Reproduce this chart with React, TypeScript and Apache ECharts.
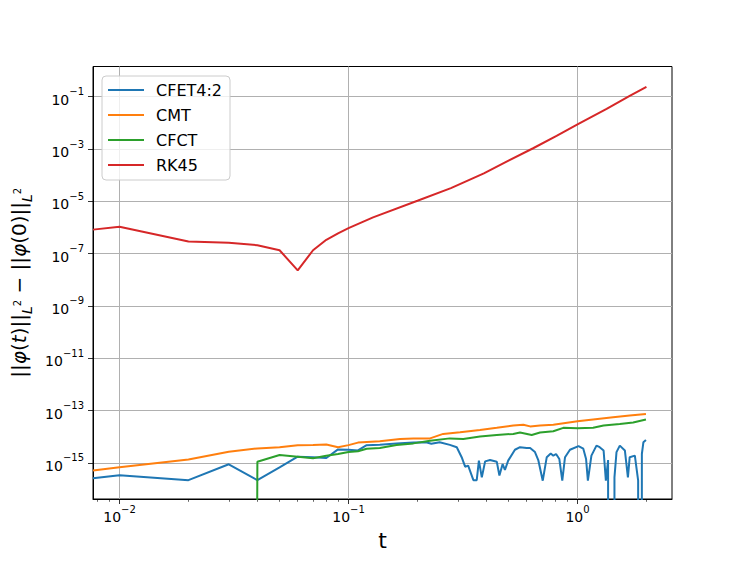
import React, { useEffect, useRef } from "react";
import * as echarts from "echarts";

// Axis limits (data units)
const X_MIN = 0.00766;
const X_MAX = 2.586;
const Y_MIN = 4.19e-17;
const Y_MAX = 1.427;

const X_MAJOR_EXP = [-2, -1, 0];
const Y_MAJOR_EXP = [-15, -13, -11, -9, -7, -5, -3, -1];
const X_MINOR = [0.008, 0.009, 0.02, 0.03, 0.04, 0.05, 0.06, 0.07, 0.08, 0.09, 0.2, 0.3, 0.4, 0.5, 0.6, 0.7, 0.8, 0.9, 2];

const SERIES_NAMES = ["CFET4:2", "CMT", "CFCT", "RK45"];
const COLORS = ["#1f77b4", "#ff7f0e", "#2ca02c", "#d62728"];

const cfetT = [0.00766, 0.01, 0.02, 0.03, 0.04, 0.05, 0.06, 0.07, 0.08, 0.09, 0.1, 0.11, 0.12, 0.137, 0.162, 0.192, 0.218, 0.23, 0.25, 0.277, 0.297, 0.312, 0.323, 0.333, 0.351, 0.363, 0.371, 0.382, 0.395, 0.415, 0.444, 0.456, 0.471, 0.482, 0.498, 0.533, 0.561, 0.6, 0.621, 0.652, 0.674, 0.705, 0.734, 0.764, 0.784, 0.806, 0.833, 0.858, 0.882, 0.927, 1.01, 1.06, 1.09, 1.11, 1.15, 1.21, 1.25, 1.3, 1.33, 1.36, 1.41, 1.45, 1.48, 1.53, 1.61, 1.66, 1.69, 1.78, 1.84, 1.87, 1.91, 1.94, 1.99];
const cfetErr = [2.6e-16, 3.4e-16, 2.2e-16, 8.9e-16, 2.2e-16, 6.8e-16, 1.74e-15, 1.66e-15, 1.55e-15, 3.3e-15, 3.2e-15, 3.0e-15, 4.8e-15, 5.0e-15, 5.6e-15, 6.0e-15, 6.2e-15, 5.4e-15, 6.2e-15, 4.9e-15, 4.0e-15, 1.66e-15, 7.2e-16, 7.9e-16, 2.2e-16, 2.2e-16, 1.23e-15, 2.8e-16, 1.15e-15, 1.29e-15, 1.12e-15, 3.3e-16, 9.1e-16, 5.4e-16, 1.23e-15, 3.2e-15, 4.0e-15, 3.7e-15, 3.7e-15, 2.6e-15, 1.29e-15, 2.1e-16, 1.66e-15, 2.3e-15, 1.9e-15, 2.2e-15, 1.41e-15, 2.1e-16, 1.66e-15, 3.2e-15, 4.4e-15, 3.5e-15, 1.41e-15, 2.1e-16, 1.9e-15, 4.6e-15, 4.0e-15, 3.0e-15, 2.1e-16, 1.29e-15, 0, 2.8e-16, 2.6e-15, 4.6e-15, 3.0e-15, 2.8e-16, 1.66e-15, 1.9e-15, 2.1e-16, 0, 2.2e-15, 6.2e-15, 7.6e-15];

const cmtT = [0.00766, 0.01, 0.02, 0.03, 0.04, 0.05, 0.06, 0.07, 0.08, 0.09, 0.1, 0.11, 0.137, 0.168, 0.192, 0.227, 0.259, 0.307, 0.375, 0.444, 0.524, 0.58, 0.621, 0.686, 0.784, 1.0, 1.17, 1.43, 1.69, 1.99];
const cmtErr = [5.2e-16, 6.8e-16, 1.35e-15, 2.7e-15, 3.6e-15, 4.0e-15, 4.8e-15, 4.9e-15, 5.1e-15, 4.0e-15, 4.8e-15, 6.0e-15, 6.8e-15, 8.3e-15, 8.7e-15, 8.7e-15, 1.29e-14, 1.48e-14, 1.82e-14, 2.2e-14, 2.7e-14, 2.9e-14, 2.5e-14, 2.7e-14, 2.9e-14, 3.9e-14, 4.6e-14, 5.6e-14, 6.5e-14, 7.4e-14];

const cfctT = [0.03, 0.04, 0.05, 0.06, 0.07, 0.08, 0.09, 0.1, 0.11, 0.12, 0.137, 0.162, 0.192, 0.227, 0.277, 0.317, 0.375, 0.444, 0.524, 0.561, 0.631, 0.686, 0.784, 0.867, 1.0, 1.17, 1.3, 1.53, 1.75, 1.99];
const cfctErr = [0, 1.12e-15, 2.0e-15, 1.74e-15, 1.5e-15, 1.9e-15, 2.2e-15, 2.6e-15, 2.8e-15, 3.5e-15, 3.7e-15, 4.9e-15, 5.6e-15, 7.1e-15, 8.7e-15, 8.3e-15, 1.02e-14, 1.17e-14, 1.29e-14, 1.45e-14, 1.17e-14, 1.45e-14, 1.62e-14, 2.2e-14, 2.1e-14, 2.2e-14, 2.7e-14, 3.1e-14, 3.5e-14, 4.6e-14];

const rk45T = [0.00766, 0.01, 0.02, 0.03, 0.04, 0.05, 0.06, 0.07, 0.08, 0.09, 0.1, 0.128, 0.2, 0.28, 0.39, 0.49, 0.64, 0.81, 1.0, 1.34, 1.69, 2.0];
const rk45Err = [8.3e-7, 1.07e-6, 2.9e-7, 2.6e-7, 2.1e-7, 1.35e-7, 2.3e-8, 1.35e-7, 3.4e-7, 6.0e-7, 9.5e-7, 2.45e-6, 1.05e-5, 3.2e-5, 1.17e-4, 3.3e-4, 1.07e-3, 3.2e-3, 8.7e-3, 3.4e-2, 0.107, 0.24];

// Log transform; y is shifted by one decade so that nice even ticks fall on odd exponents.
const Y_SHIFT = 1;
const FLOOR_EXP = -300; // non-positive values are clipped far below the axis (like matplotlib)
const lx = (t: number) => Math.log10(t);
const ly = (v: number) => (v > 0 ? Math.log10(v) : FLOOR_EXP) + Y_SHIFT;
const pts = (ts: number[], vs: number[]) => ts.map((t, i) => [lx(t), ly(vs[i])]);

const FONT = "DejaVu Sans";

const expLabel = (e: number) => `{b|10}{s|${e < 0 ? "\u2212" : ""}${Math.abs(e)}}`;
const labelRich = {
  b: { fontFamily: FONT, fontSize: 14, color: "#000", lineHeight: 20, verticalAlign: "bottom" },
  s: { fontFamily: FONT, fontSize: 10, color: "#000", lineHeight: 10, verticalAlign: "top" },
};

export default function App() {
  const ref = useRef<HTMLDivElement>(null);
  useEffect(() => {
    document.body.style.margin = "0";
    if (!ref.current) return;
    const chart = echarts.init(ref.current, null, { renderer: "svg" });
    const seriesData = [pts(cfetT, cfetErr), pts(cmtT, cmtErr), pts(cfctT, cfctErr), pts(rk45T, rk45Err)];
    const gridLine = { show: true, lineStyle: { color: "#b0b0b0", width: 1 } };
    chart.setOption({
      animation: false,
      backgroundColor: "#fff",
      grid: { left: 93, top: 66.5, right: 75, bottom: 62, show: true, borderColor: "#000", borderWidth: 1, backgroundColor: "transparent", containLabel: false },
      legend: {
        orient: "vertical",
        left: 102,
        top: 76,
        data: SERIES_NAMES,
        icon: "rect",
        itemWidth: 36,
        itemHeight: 2,
        itemGap: 5,
        padding: [4, 8, 5, 6],
        backgroundColor: "rgba(255,255,255,0.8)",
        borderColor: "#cccccc",
        borderWidth: 1,
        borderRadius: 4,
        textStyle: { fontFamily: FONT, fontSize: 16, color: "#000", lineHeight: 20, padding: [0, 0, 0, 7] },
      },
      xAxis: [
        {
          type: "value",
          position: "bottom",
          min: lx(X_MIN),
          max: lx(X_MAX),
          splitNumber: 3,
          name: "t",
          nameLocation: "middle",
          nameGap: 30,
          nameTextStyle: { fontFamily: FONT, fontSize: 22, color: "#000" },
          axisLine: { show: true, onZero: false, lineStyle: { color: "#000", width: 1 } },
          axisTick: { show: true, inside: false, length: 5, lineStyle: { color: "#000", width: 0.8 }, customValues: X_MAJOR_EXP },
          axisLabel: { show: true, margin: 5, customValues: X_MAJOR_EXP, formatter: (v: number) => expLabel(Math.round(v)), rich: labelRich },
          splitLine: gridLine,
        },
        {
          type: "value",
          position: "bottom",
          min: lx(X_MIN),
          max: lx(X_MAX),
          axisLine: { show: false, onZero: false },
          axisTick: { show: true, length: 2.8, lineStyle: { color: "#000", width: 0.6 }, customValues: X_MINOR.map(lx) },
          axisLabel: { show: false },
          splitLine: { show: false },
        },
      ],
      yAxis: {
        type: "value",
        position: "left",
        min: ly(Y_MIN),
        max: ly(Y_MAX),
        splitNumber: 8,
        name: "{a|||}{i|\u03c6}{a|(}{i|t}{a|)||}{l|L}{p|2}{a| \u2212 ||}{i|\u03c6}{a|(0)||}{l|L}{p|2}",
        nameLocation: "middle",
        nameGap: 58,
        nameTextStyle: {
          fontFamily: FONT,
          color: "#000",
          rich: {
            a: { fontFamily: FONT, fontSize: 20, color: "#000", lineHeight: 30 },
            i: { fontFamily: FONT, fontSize: 20, fontStyle: "italic", color: "#000", lineHeight: 30 },
            l: { fontFamily: FONT, fontSize: 14, fontStyle: "italic", color: "#000", lineHeight: 14, verticalAlign: "bottom" },
            p: { fontFamily: FONT, fontSize: 10, color: "#000", lineHeight: 10, verticalAlign: "bottom", padding: [0, 0, 12, 0] },
          },
        },
        axisLine: { show: true, onZero: false, lineStyle: { color: "#000", width: 1 } },
        axisTick: { show: true, length: 5, lineStyle: { color: "#000", width: 0.8 }, customValues: Y_MAJOR_EXP.map((e) => e + Y_SHIFT) },
        axisLabel: {
          show: true,
          margin: 9,
          customValues: Y_MAJOR_EXP.map((e) => e + Y_SHIFT),
          formatter: (v: number) => expLabel(Math.round(v) - Y_SHIFT),
          rich: labelRich,
        },
        splitLine: gridLine,
      },
      series: SERIES_NAMES.map((name, i) => ({
        name,
        type: "line",
        data: seriesData[i],
        showSymbol: false,
        symbol: "none",
        color: COLORS[i],
        lineStyle: { color: COLORS[i], width: 2 },
        clip: true,
        z: 3 + i,
      })),
    });
    return () => chart.dispose();
  }, []);
  return <div ref={ref} style={{ width: 747, height: 561 }} />;
}
